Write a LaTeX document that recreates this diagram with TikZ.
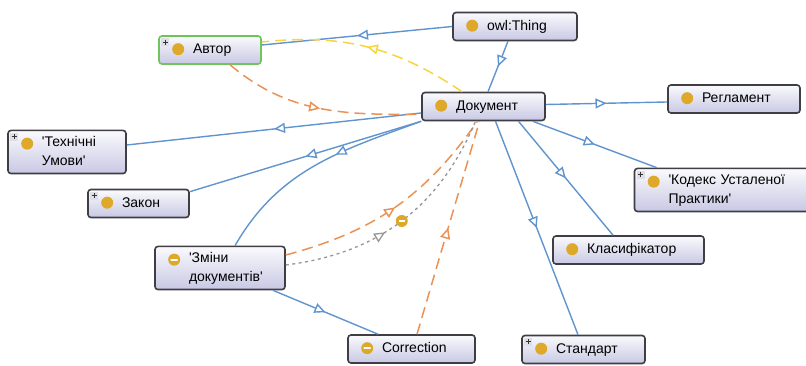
\documentclass[tikz,border=0pt]{standalone}
\usepackage{fontspec}
\newfontfamily\uifont{Liberation Sans}
\usetikzlibrary{arrows.meta, decorations.markings}

\definecolor{edgeblue}{RGB}{96,148,206}
\definecolor{edgeorange}{RGB}{234,146,86}
\definecolor{edgeyellow}{RGB}{246,214,60}
\definecolor{edgegray}{RGB}{150,150,150}
\definecolor{boxline}{RGB}{62,62,68}
\definecolor{boxtop}{RGB}{250,250,253}
\definecolor{boxbottom}{RGB}{200,200,228}
\definecolor{dotyellow}{RGB}{222,168,40}
\definecolor{authorgreen}{RGB}{112,196,92}
\definecolor{iconfill}{RGB}{222,222,230}

\newcommand{\clsname}[1]{\begin{tabular}{@{\hspace{30pt}}l@{}}#1\end{tabular}}
\renewcommand{\arraystretch}{1.15}

\tikzset{
  cls/.style={draw=boxline, line width=1.6pt, rounded corners=3pt,
    top color=boxtop, bottom color=boxbottom, inner xsep=4pt, inner ysep=2pt,
    minimum height=28pt, align=left, font=\uifont\fontsize{14}{17}\selectfont},
  midarrow/.style={postaction={decorate}, decoration={markings,
    mark=at position #1 with {\arrow{Triangle[fill=white, length=11pt, width=10pt]}}}},
  isa/.style={draw=edgeblue, line width=1.4pt, midarrow=#1},
  isa/.default=0.5,
  orangelink/.style={draw=edgeorange, line width=1.5pt, dash pattern=on 11pt off 6pt, midarrow=0.5},
  yellowlink/.style={draw=edgeyellow, line width=1.5pt, dash pattern=on 11pt off 6pt, midarrow=0.5},
  graylink/.style={draw=edgegray, line width=1.3pt, dash pattern=on 3pt off 3.5pt,
    postaction={decorate}, decoration={markings,
      mark=at position 0.42 with {\arrow{Triangle[fill=white, length=11pt, width=10pt]}},
      mark=at position 0.5 with {\pgftransformresetnontranslations
        \fill[dotyellow] (0,0) circle (6pt);
        \draw[white, solid, line width=1.6pt] (-2.8pt,0) -- (2.8pt,0);}}}
}

\begin{document}
\begin{tikzpicture}[x=1pt, y=1pt]
    \useasboundingbox (0,0) rectangle (806,366);

    % Classes
    \node[cls, text width=116pt] (thing) at (515,339.5) {\clsname{owl:Thing}};
    \node[cls, draw=authorgreen, text width=94pt] (author) at (210,316) {\clsname{Автор}};
    \node[cls, text width=115pt] (doc) at (483.5,259.5) {\clsname{Документ}};
    \node[cls, text width=124pt] (regl) at (734,267) {\clsname{Регламент}};
    \node[cls, text width=110pt] (tech) at (67,214) {\clsname{'Технічні\\Умови'}};
    \node[cls, text width=93pt] (zakon) at (138.5,162.5) {\clsname{Закон}};
    \node[cls, text width=168pt] (kodeks) at (722.5,176) {\clsname{'Кодекс Усталеної\\Практики'}};
    \node[cls, text width=143pt] (klas) at (628.5,116) {\clsname{Класифікатор}};
    \node[cls, text width=122pt] (zminy) at (220,98) {\clsname{'Зміни\\документів'}};
    \node[cls, text width=119pt] (corr) at (411.5,17) {\clsname{Correction}};
    \node[cls, text width=115pt] (stand) at (583.5,16.5) {\clsname{Стандарт}};

    % Class icons
    \foreach \n in {thing,author,doc,regl,tech,zakon,kodeks,klas,zminy,corr,stand}
        \fill[dotyellow] ([shift={(20pt,-14pt)}]\n.north west) circle (6pt);
    \foreach \n in {zminy,corr}
        \draw[white, line width=1.8pt, line cap=round] ([shift={(17pt,-14pt)}]\n.north west) -- ++(6pt,0);
    \foreach \n in {author,tech,zakon,kodeks,stand} {
        \fill[iconfill] ([shift={(3pt,-3pt)}]\n.north west) rectangle ++(8pt,-8pt);
        \draw[black!80, line width=0.8pt] ([shift={(4.5pt,-7pt)}]\n.north west) -- ++(5pt,0)
            ([shift={(7pt,-4.5pt)}]\n.north west) -- ++(0,-5pt);
    }

    % Subclass links
    \draw[isa] (thing.west) -- ([yshift=5pt]author.east);
    \draw[isa] ([xshift=-7pt]thing.south) -- ([xshift=4.5pt]doc.north);
    \draw[isa] ([yshift=2pt]doc.east) -- ([yshift=-3pt]regl.west);
    \draw[isa] ([yshift=-6.5pt]doc.west) -- ([yshift=7pt]tech.east);
    \draw[isa] (doc.south west) -- ([yshift=-3pt]zakon.north east);
    \draw[isa=0.4] (doc.south west) to[out=200, in=60] ([xshift=15pt]zminy.north);
    \draw[isa] ([xshift=-13pt]doc.south east) -- ([xshift=23pt]kodeks.north west);
    \draw[isa] ([xshift=35pt]doc.south) -- ([xshift=-15.5pt]klas.north);
    \draw[isa] ([xshift=12pt]doc.south) -- ([xshift=-5.5pt]stand.north);
    \draw[isa] ([xshift=53pt]zminy.south) -- ([xshift=-33.5pt]corr.north);

    % Property links
    \draw[yellowlink] ([xshift=-21.5pt]doc.north) to[bend right=20] ([yshift=8pt]author.east);
    \draw[orangelink] ([xshift=20pt]author.south) to[out=-40, in=180] ([yshift=-8pt]doc.west);
    \draw[orangelink] ([yshift=13pt]zminy.east) to[bend right=20] ([xshift=-6pt]doc.south);
    \draw[graylink] ([yshift=3pt]zminy.east) to[bend right=30] ([xshift=-8pt]doc.south);
    \draw[orangelink] ([xshift=5.5pt]corr.north) -- ([xshift=-4pt]doc.south);
\end{tikzpicture}
\end{document}
